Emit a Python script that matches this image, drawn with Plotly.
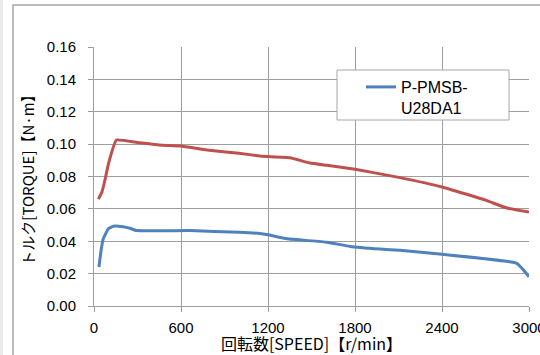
import plotly.graph_objects as go

# Red curve (no legend entry)
speed_red = [30, 55, 76, 100, 155, 300, 450, 600, 780, 1000, 1145, 1200, 1352, 1490, 1607, 1800, 2110, 2400, 2700, 2848, 3000]
torque_red = [0.066, 0.0705, 0.078, 0.088, 0.1025, 0.101, 0.0994, 0.0988, 0.0963, 0.0944, 0.0926, 0.0923, 0.0916, 0.0883, 0.0869, 0.0845, 0.0793, 0.0735, 0.0654, 0.0605, 0.058]

# Blue curve (legend: P-PMSB-U28DA1)
speed_blue = [34, 50, 64, 99, 133, 200, 248, 294, 662, 1000, 1145, 1200, 1331, 1607, 1766, 1972, 2110, 2400, 2890, 2917, 2959, 3000]
torque_blue = [0.0241, 0.035, 0.0415, 0.0477, 0.0493, 0.049, 0.048, 0.0466, 0.0466, 0.0455, 0.0448, 0.044, 0.0415, 0.0394, 0.0368, 0.0352, 0.0344, 0.032, 0.027, 0.0262, 0.0225, 0.018]

x_ticks = [0, 600, 1200, 1800, 2400, 3000]
y_ticks = [0.00, 0.02, 0.04, 0.06, 0.08, 0.10, 0.12, 0.14, 0.16]

series_name = "P-PMSB-<br>U28DA1"
x_title = "回転数[SPEED]【r/min】"
y_title = "トルク[TORQUE]【N·m】"

fig = go.Figure()
fig.add_trace(go.Scatter(x=speed_red, y=torque_red, mode="lines",
                         line=dict(color="#C0504D", width=3, shape="spline", smoothing=0.3),
                         showlegend=False))
fig.add_trace(go.Scatter(x=speed_blue, y=torque_blue, mode="lines", name=series_name,
                         line=dict(color="#4F81BD", width=3, shape="spline", smoothing=0.3)))

W, H = 540, 355
L, R, T, B = 94, 11, 47, 49
pw, ph = W - L - R, H - T - B

def px_x(p):
    return (p - L) / pw

def px_y(p):
    return (H - B - p) / ph

font_main = "Liberation Sans, Arial, Noto Sans CJK JP, sans-serif"
font_cjk = "Noto Sans CJK JP, Liberation Sans, sans-serif"

fig.update_layout(
    width=W, height=H,
    margin=dict(l=L, r=R, t=T, b=B, autoexpand=False),
    paper_bgcolor="white", plot_bgcolor="white",
    font=dict(family=font_main, size=15, color="#000000"),
    legend=dict(x=px_x(361), y=px_y(70), xanchor="left", yanchor="top",
                bgcolor="rgba(0,0,0,0)", borderwidth=0,
                font=dict(family=font_main, size=16, color="#000000"),
                valign="top", itemwidth=30, tracegroupgap=0),
    shapes=[
        dict(type="rect", xref="paper", yref="paper",
             x0=px_x(13), x1=px_x(560), y0=px_y(5), y1=px_y(380),
             line=dict(color="#A6A6A6", width=1.5), fillcolor="rgba(0,0,0,0)", layer="below"),
        dict(type="rect", xref="paper", yref="paper",
             x0=px_x(0), x1=px_x(3), y0=px_y(0), y1=px_y(355),
             line=dict(width=0), fillcolor="#EBEBEB", layer="below"),
        dict(type="rect", xref="paper", yref="paper",
             x0=px_x(337), x1=px_x(509), y0=px_y(70), y1=px_y(120),
             line=dict(color="#A6A6A6", width=1), fillcolor="white", layer="above"),
    ],
)

fig.update_xaxes(
    range=[0, 3000], tickvals=x_ticks, ticktext=[str(v) for v in x_ticks],
    showgrid=True, gridcolor="#9E9E9E", gridwidth=1,
    showline=True, linecolor="#9E9E9E", linewidth=1, mirror=False,
    ticks="outside", ticklen=5, tickcolor="#9E9E9E",
    zeroline=False, ticklabelstandoff=3, ticklabeloverflow="allow",
    tickfont=dict(family=font_main, size=15, color="#000000"),
    title=dict(text=x_title, font=dict(family=font_cjk, size=16, color="#000000"), standoff=3),
)
fig.update_yaxes(
    range=[0, 0.16], tickvals=y_ticks, ticktext=[f"{v:.2f}" for v in y_ticks],
    showgrid=True, gridcolor="#9E9E9E", gridwidth=1,
    showline=True, linecolor="#9E9E9E", linewidth=1,
    ticks="outside", ticklen=5, tickcolor="#9E9E9E",
    zeroline=False, ticklabelstandoff=9, ticklabeloverflow="allow",
    tickfont=dict(family=font_main, size=15, color="#000000"),
    title=dict(text=y_title, font=dict(family=font_cjk, size=15, color="#000000"), standoff=8),
)

fig.write_html("out.html", config={"displayModeBar": False},
               post_script="document.body.style.margin='0';document.body.style.overflow='hidden';")
